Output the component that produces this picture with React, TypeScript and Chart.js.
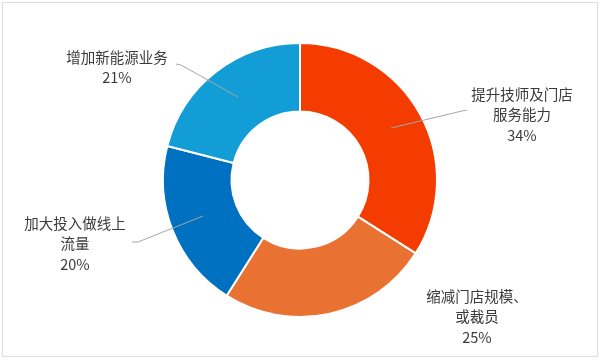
import React, { useEffect, useRef } from "react";
import { Chart, registerables } from "chart.js";

Chart.register(...registerables);

const categories = ["提升技师及门店服务能力", "缩减门店规模、或裁员", "加大投入做线上流量", "增加新能源业务"];
const labelLines = [
  ["提升技师及门店", "服务能力", "34%"],
  ["缩减门店规模、", "或裁员", "25%"],
  ["加大投入做线上", "流量", "20%"],
  ["增加新能源业务", "21%"],
];
const values = [34, 25, 20, 21];
const colors = ["#F43C00", "#E97132", "#0070C0", "#139DD6"];

// label anchor (centre of text block top line) and leader lines, in px
const labelPos = [
  { x: 522, y: 94 },
  { x: 477, y: 296 },
  { x: 75, y: 223 },
  { x: 117, y: 57 },
];
const leaders: (number[][] | null)[] = [
  [[391, 128], [462, 111], [467, 110]],
  null,
  [[203, 216], [138, 242], [132, 242]],
  [[238, 97], [181, 65], [176, 64]],
];

const decorPlugin = {
  id: "decor",
  beforeDraw(chart: any) {
    const ctx = chart.ctx;
    ctx.save();
    ctx.strokeStyle = "#dedede";
    ctx.lineWidth = 1;
    ctx.strokeRect(2.5, 2.5, 595, 354);
    ctx.restore();
  },
  afterDraw(chart: any) {
    const ctx = chart.ctx;
    ctx.save();
    ctx.strokeStyle = "#a6a6a6";
    ctx.lineWidth = 1;
    leaders.forEach((pts) => {
      if (!pts) return;
      ctx.beginPath();
      ctx.moveTo(pts[0][0], pts[0][1]);
      for (let i = 1; i < pts.length; i++) ctx.lineTo(pts[i][0], pts[i][1]);
      ctx.stroke();
    });
    ctx.fillStyle = "#3a3a3a";
    ctx.font = '14.5px "Noto Sans CJK SC", "Liberation Sans", sans-serif';
    ctx.textAlign = "center";
    ctx.textBaseline = "middle";
    labelLines.forEach((lines, i) => {
      const p = labelPos[i];
      lines.forEach((t, j) => {
        ctx.fillText(t, p.x, p.y + j * 20.5);
      });
    });
    ctx.restore();
  },
};

export default function App() {
  const ref = useRef<HTMLCanvasElement>(null);
  useEffect(() => {
    document.body.style.margin = "0";
    const chart = new Chart(ref.current!, {
      type: "doughnut",
      data: {
        labels: categories,
        datasets: [
          {
            data: values,
            backgroundColor: colors,
            borderColor: "#ffffff",
            borderWidth: 2,
          },
        ],
      },
      options: {
        animation: false,
        responsive: false,
        maintainAspectRatio: false,
        cutout: "50%",
        layout: { padding: { top: 42, bottom: 42, left: 0, right: 0 } },
        plugins: {
          legend: { display: false },
          tooltip: { enabled: false },
        },
      },
      plugins: [decorPlugin],
    });
    return () => chart.destroy();
  }, []);
  return (
    <div style={{ width: 600, height: 360 }}>
      <canvas ref={ref} width={600} height={360} style={{ width: 600, height: 360, display: "block" }} />
    </div>
  );
}
